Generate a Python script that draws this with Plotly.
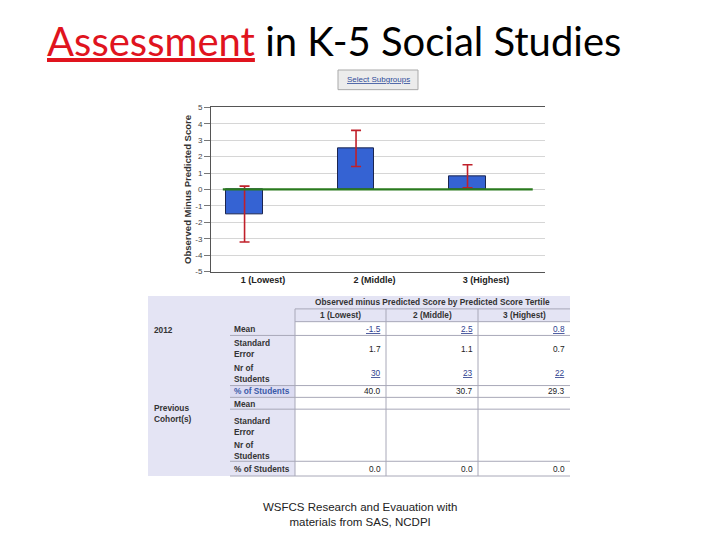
import plotly.graph_objects as go

# ---------------- data ----------------
tertiles = ["1 (Lowest)", "2 (Middle)", "3 (Highest)"]
mean_2012 = [-1.5, 2.5, 0.8]
se_2012 = [1.7, 1.1, 0.7]
n_2012 = [30, 23, 22]
pct_2012 = [40.0, 30.7, 29.3]
pct_prev = [0.0, 0.0, 0.0]
y_ticks = [-5, -4, -3, -2, -1, 0, 1, 2, 3, 4, 5]
row_labels = ["Mean", "Standard<br>Error", "Nr of<br>Students", "% of Students"]
group_labels = ["2012", "Previous<br>Cohort(s)"]
table_title = "Observed minus Predicted Score by Predicted Score Tertile"

OFF = 8  # page body margin
W, H = 712, 532


def px(x):
    return (x - OFF) / W


def py(y):
    return 1 - (y - OFF) / H


fig = go.Figure()

fig.add_trace(go.Bar(
    x=tertiles, y=mean_2012,
    offset=-0.33, width=0.33,
    marker=dict(color="#3563d3", line=dict(color="#1b2550", width=1)),
    error_y=dict(type="data", array=se_2012, visible=True,
                 color="#c0202a", thickness=1.6, width=5),
    showlegend=False, hoverinfo="skip",
))

ann = []
shapes = []

# zero reference line
shapes.append(dict(type="line", xref="x", yref="y", x0=-0.36, x1=2.42, y0=0, y1=0,
                   line=dict(color="#2a7a1e", width=2.2)))


def text(x, y, t, size, color, xanchor="center", family=None, align="center"):
    f = dict(size=size, color=color)
    if family:
        f["family"] = family
    ann.append(dict(x=px(x), y=py(y), xref="paper", yref="paper", xanchor=xanchor, yanchor="middle",
                    showarrow=False, align=align, text=t, font=f))


def rect(x0, x1, y0, y1, fill, line_color=None, layer="below"):
    shapes.append(dict(type="rect", xref="paper", yref="paper", x0=px(x0), x1=px(x1), y0=py(y1), y1=py(y0),
                       fillcolor=fill,
                       line=dict(color=line_color, width=1) if line_color else dict(width=0),
                       layer=layer))


# title
text(45, 38, "<span style='color:#e0141e'><u>Assessment</u></span> in K-5 Social Studies",
     40, "black", xanchor="left", family="Lato, Open Sans, sans-serif")

# Select subgroups button
rect(338, 418, 67, 87, "#ececec", "#a9a9a9")
text(378, 77, "<u>Select Subgroups</u>", 8, "#2f4b9a")

# ---------------- table ----------------
LAV = "#e4e4f4"
LINE = "#a8a8b8"
TS = 8.3
tx0, tx_lab, tx_data, tx1 = 148, 230, 295, 570
col_edges = [295, 386, 478, 570]
ty0, ty_sub, ty_head, ty1 = 297, 310, 323, 480

rect(tx0, tx_data, ty0, ty1, LAV)
rect(tx_data, tx1, ty0, ty_head, LAV)
rect(tx_lab, tx_data, 388, 400, "#dcdcf2")

text((tx_data + tx1) / 2, 303, "<b>%s</b>" % table_title, TS, "#333")
for i, t in enumerate(tertiles):
    cx = (col_edges[i] + col_edges[i + 1]) / 2
    text(cx, 316.5, "<b>%s</b>" % t, TS, "#333")


def hline(y, x0, x1):
    shapes.append(dict(type="line", xref="paper", yref="paper", x0=px(x0), x1=px(x1), y0=py(y), y1=py(y),
                       line=dict(color=LINE, width=1)))


hline(ty_sub, tx_data, tx1)
hline(ty_head, tx_data, tx1)
for yl in [337, 388, 400, 412, 465, ty1]:
    hline(yl, tx_lab, tx1)

for xe in col_edges[:-1]:
    shapes.append(dict(type="line", xref="paper", yref="paper", x0=px(xe), x1=px(xe), y0=py(ty1), y1=py(ty_sub),
                       line=dict(color=LINE, width=1)))

for g, gy in zip(group_labels, [331, 416]):
    text(152, gy, "<b>%s</b>" % g, TS, "#333", xanchor="left", align="left")

row_y = [[330, 350.5, 375.5, 394], [407, 430, 454, 472.5]]
for gi, ys in enumerate(row_y):
    for li, (lab, yy) in enumerate(zip(row_labels, ys)):
        col = "#3a5aa8" if (gi == 0 and li == 3) else "#333"
        text(232, yy, "<b>%s</b>" % lab, TS, col, xanchor="left", align="left")

for i in range(3):
    rx = col_edges[i + 1] - 3
    text(rx, 330, "<u>%.1f</u>" % mean_2012[i], TS, "#2f3f8f", xanchor="right")
    text(rx, 350.5, "%.1f" % se_2012[i], TS, "#222", xanchor="right")
    text(rx, 375.5, "<u>%d</u>" % n_2012[i], TS, "#2f3f8f", xanchor="right")
    text(rx, 394, "%.1f" % pct_2012[i], TS, "#222", xanchor="right")
    text(rx, 472.5, "%.1f" % pct_prev[i], TS, "#222", xanchor="right")

# footer
text(360, 519, "WSFCS Research and Evauation with<br>materials from SAS, NCDPI", 11.5, "#222")

fig.update_layout(
    width=W, height=H,
    margin=dict(l=0, r=0, t=0, b=0),
    paper_bgcolor="white", plot_bgcolor="white",
    font=dict(family="Liberation Sans, Arial, sans-serif", color="#222"),
    bargap=0,
    xaxis=dict(domain=[px(211), px(545)], range=[-0.466, 2.53],
               showline=True, linecolor="#555", linewidth=1, mirror=True,
               showgrid=False, ticks="", tickfont=dict(size=9, color="#222"),
               tickvals=tertiles, ticktext=["<b>%s</b>" % t for t in tertiles]),
    yaxis=dict(domain=[py(272), py(105)], range=[-5, 5],
               tickvals=y_ticks, ticktext=[str(v) for v in y_ticks],
               showline=True, linecolor="#555", linewidth=1,
               ticks="outside", ticklen=6, tickcolor="#777",
               tickfont=dict(size=8, color="#444"),
               showgrid=True, gridcolor="#d6d6d6", gridwidth=1,
               zeroline=False,
               title=dict(text="<b>Observed Minus Predicted Score</b>",
                          font=dict(size=9.5, color="#333"), standoff=1)),
    annotations=ann, shapes=shapes,
)
fig.write_html("out.html")
